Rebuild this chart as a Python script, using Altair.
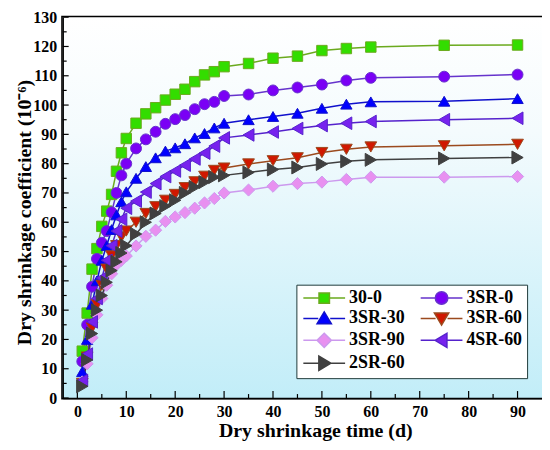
import altair as alt
import pandas as pd

# ---------------- data ----------------
days = [1, 2, 3, 4, 5, 6, 7, 8, 9, 10, 12, 14, 16, 18, 20, 22, 24, 26, 28, 30,
        35, 40, 45, 50, 55, 60, 75, 90]

series_names = ["30-0", "3SR-0", "3SR-30", "3SR-60", "3SR-90", "4SR-60", "2SR-60"]

s_30_0 = [16, 29, 44, 51, 58.6, 63.8, 69.5, 77.4, 83.7, 88.6, 93.8, 97, 99.1, 101.7,
          103.7, 105.4, 108, 110.3, 111.4, 113.1, 114.2, 116, 116.7, 118.6, 119.3,
          119.8, 120.4, 120.5]
s_3sr_0 = [12.5, 25, 38, 47.5, 53, 57, 63.4, 70, 76, 80, 85.2, 88.3, 90.9, 93.6,
           95.2, 96.6, 98.6, 100.3, 101.1, 103.1, 103.6, 105, 106, 107, 108.4, 109.3,
           109.7, 110.4]
s_3sr_30 = [9, 20, 32, 40, 47, 52, 57.5, 62.5, 67, 70.4, 75, 79, 82, 84.3, 85.4,
            86.8, 88.8, 90.3, 92.2, 93.8, 95, 96.1, 97.2, 98.9, 100.3, 101.1, 101.3,
            102.2]
s_3sr_60 = [5, 14, 24, 32, 38.5, 44, 48.5, 52, 55, 57, 60, 63, 65.3, 67.5, 69.5,
            71.8, 73.8, 75.7, 77.7, 78.5, 79.9, 81, 82, 83.8, 84.9, 85.7, 86.1, 86.6]
s_3sr_90 = [5.5, 11.7, 20.6, 28.4, 34, 38.5, 42.4, 45.5, 47, 48.5, 51.9, 55.2, 57.3,
            60.3, 61.8, 63.3, 64.8, 66.6, 68.1, 70, 71, 72.3, 73.2, 73.7, 74.6, 75.4,
            75.4, 75.6]
s_4sr_60 = [6, 15, 26, 34, 41, 47, 52, 57, 61, 64.8, 67.2, 70.3, 73.2, 75.6, 77.5,
            79.5, 81.6, 83.6, 86, 88.8, 89.8, 90.8, 92, 93, 93.8, 94.4, 95, 95.5]
s_2sr_60 = [4, 13, 22, 30, 35, 39.5, 43.5, 46.5, 49.5, 52, 56, 60, 63, 65.5, 67.5,
            70, 72, 73.7, 75.4, 76, 77, 78, 78.7, 79.9, 80.8, 81.3, 81.8, 82.1]

all_series = [s_30_0, s_3sr_0, s_3sr_30, s_3sr_60, s_3sr_90, s_4sr_60, s_2sr_60]

fill_colors = ["#33DD00", "#7A00F5", "#0000FF", "#D01800", "#E890F0", "#7722EE", "#404040"]
line_colors = ["#6BAA1E", "#6633CC", "#1010CC", "#9B4A1E", "#CC99EE", "#5522CC", "#404040"]
shapes = ["square", "circle", "triangle-up", "triangle-down", "diamond",
          "triangle-left", "triangle-right"]
sizes = [110, 170, 190, 190, 190, 190, 190]

seg = "M-3.5,0H-1M1,0H3.5"
legend_paths = [
    seg + "M-0.875,-0.875H0.875V0.875H-0.875Z",
    seg + "M1.05,0A1.05,1.05,0,1,1,-1.05,0A1.05,1.05,0,1,1,1.05,0Z",
    seg + "M0,-1.1L1.2,0.9L-1.2,0.9Z",
    seg + "M0,1.1L1.2,-0.9L-1.2,-0.9Z",
    seg + "M0,-1.2L1.2,0L0,1.2L-1.2,0Z",
    seg + "M-1.1,0L0.9,-1.2L0.9,1.2Z",
    seg + "M1.1,0L-0.9,-1.2L-0.9,1.2Z",
]
# legend is filled column by column: reorder so that it reads row by row
legend_order = [0, 2, 4, 6, 1, 3, 5]

x_major = list(range(0, 91, 10))
x_minor = list(range(5, 90, 10))
y_major = list(range(0, 131, 10))
y_minor = list(range(5, 130, 10))

rows = []
for name, vals in zip(series_names, all_series):
    for t, v in zip(days, vals):
        rows.append({"t": t, "v": v, "s": name})
df = pd.DataFrame(rows)

# ---------------- chart ----------------
W, H = 482, 383
FONT = "Liberation Serif"

xscale = alt.Scale(domain=[-3, 95], nice=False, zero=False)
yscale = alt.Scale(domain=[0, 130], nice=False, zero=False)

xaxis = alt.Axis(values=x_major, format="d", title="Dry shrinkage time (d)", grid=False,
                 ticks=False, tickSize=0, labelPadding=6, labelFont=FONT, labelFontSize=16,
                 labelFontWeight="bold", labelColor="black", titleFont=FONT,
                 titleFontSize=20, titleFontWeight="bold", titleColor="black",
                 titleX=254, titleY=39, titleBaseline="alphabetic", titleAlign="center",
                 domainColor="black", domainWidth=1.5, zindex=1)
yaxis = alt.Axis(values=y_major, format="d", title="Dry shrinkage coefficient (10⁻⁶)",
                 grid=False, ticks=False, tickSize=0, labelPadding=6, labelFont=FONT,
                 labelFontSize=16, labelFontWeight="bold", labelColor="black",
                 titleFont=FONT, titleFontSize=20, titleFontWeight="bold",
                 titleColor="black", titleX=-32, titleY=196, titleAngle=270,
                 titleBaseline="alphabetic", titleAlign="center",
                 domainColor="black", domainWidth=1.5, zindex=1)

X = alt.X("t:Q", scale=xscale, axis=xaxis)
Y = alt.Y("v:Q", scale=yscale, axis=yaxis)

gradient = alt.LinearGradient(
    gradient="linear",
    stops=[alt.GradientStop(color="#FFFFFF", offset=0),
           alt.GradientStop(color="#F4FBFD", offset=0.3),
           alt.GradientStop(color="#C2EDF8", offset=1)],
    x1=0, x2=0, y1=0, y2=1)

bg = alt.Chart(alt.Data(values=[{}])).mark_rect(fill=gradient).encode(
    x=alt.value(0), x2=alt.value("width"), y=alt.value(0), y2=alt.value("height"))

xt_major = alt.Chart(pd.DataFrame({"t": x_major})).mark_rule(color="black", strokeWidth=1.2).encode(
    x=X, y=alt.value(H), y2=alt.value(H - 7))
xt_minor = alt.Chart(pd.DataFrame({"t": x_minor})).mark_rule(color="black", strokeWidth=1.2).encode(
    x=X, y=alt.value(H), y2=alt.value(H - 4))
yt_major = alt.Chart(pd.DataFrame({"v": y_major})).mark_rule(color="black", strokeWidth=1.2).encode(
    y=Y, x=alt.value(0), x2=alt.value(6))
yt_minor = alt.Chart(pd.DataFrame({"v": y_minor})).mark_rule(color="black", strokeWidth=1.2).encode(
    y=Y, x=alt.value(0), x2=alt.value(4))

stroke_scale = alt.Scale(domain=series_names, range=line_colors)
fill_scale = alt.Scale(domain=series_names, range=fill_colors)

lines = alt.Chart(df).mark_line(strokeWidth=1.5).encode(
    x=X, y=Y, detail="s:N",
    stroke=alt.Stroke("s:N", scale=stroke_scale, legend=None))

points = alt.Chart(df).mark_point(opacity=1, strokeWidth=1).encode(
    x=X, y=Y,
    fill=alt.Fill("s:N", scale=fill_scale, legend=None),
    stroke=alt.Stroke("s:N", scale=stroke_scale, legend=None),
    shape=alt.Shape("s:N", scale=alt.Scale(domain=series_names, range=shapes), legend=None),
    size=alt.Size("s:N", scale=alt.Scale(domain=series_names, range=sizes), legend=None))

leg_names = [series_names[i] for i in legend_order]
leg_fills = [fill_colors[i] for i in legend_order]
leg_lines = [line_colors[i] for i in legend_order]
leg_paths = [legend_paths[i] for i in legend_order]

L = alt.Legend(title=None, orient="none", legendX=235, legendY=269, columns=2,
               symbolSize=144, symbolStrokeWidth=1.5, symbolOpacity=1,
               symbolOffset=15, labelOffset=16,
               labelFont=FONT, labelFontSize=18, labelFontWeight="bold",
               labelColor="black", fillColor="white", strokeColor="#1f3a3a",
               padding=4, rowPadding=1, columnPadding=12)

leg = alt.Chart(df).transform_filter("false").mark_point(opacity=1).encode(
    x=X, y=Y,
    fill=alt.Fill("s:N", scale=alt.Scale(domain=leg_names, range=leg_fills), legend=L),
    stroke=alt.Stroke("s:N", scale=alt.Scale(domain=leg_names, range=leg_lines), legend=L),
    shape=alt.Shape("s:N", scale=alt.Scale(domain=leg_names, range=leg_paths), legend=L))

chart = alt.layer(bg, xt_major, xt_minor, yt_major, yt_minor, lines, points, leg).resolve_scale(
    fill="independent", stroke="independent", shape="independent", size="independent"
).properties(
    width=W, height=H,
    autosize=alt.AutoSizeParams(type="none"),
    padding={"left": 55, "top": 8, "right": 0, "bottom": 47},
    background="white",
).configure_view(stroke="black", strokeWidth=3)

chart.save("out.html", embed_options={"renderer": "svg", "actions": False})
